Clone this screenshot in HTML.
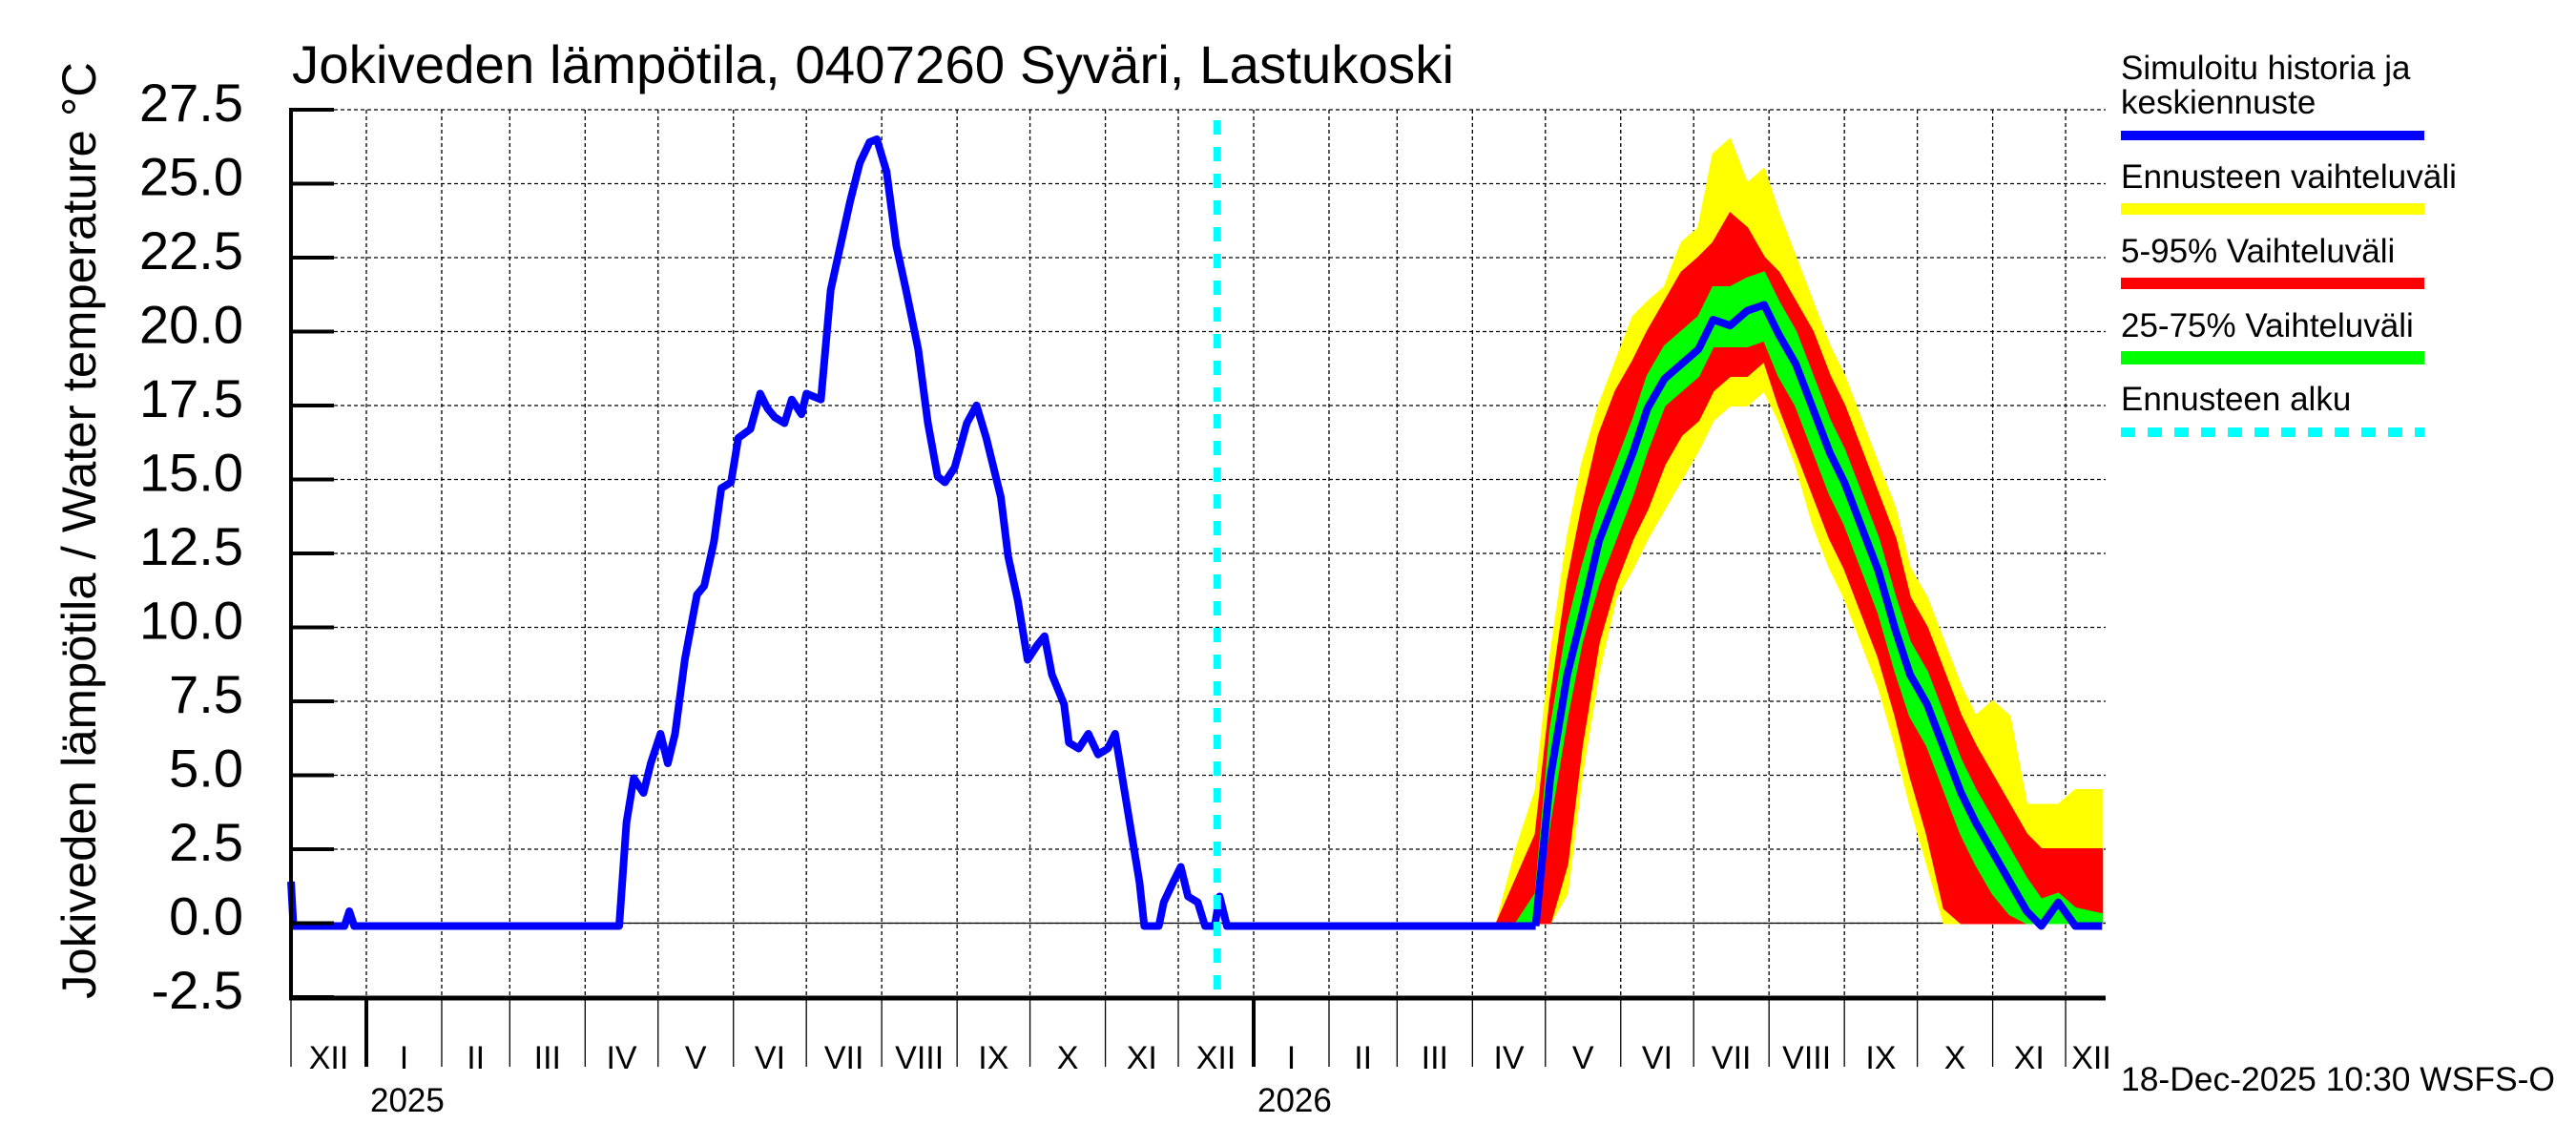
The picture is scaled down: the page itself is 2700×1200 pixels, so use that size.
<!DOCTYPE html>
<html><head><meta charset="utf-8"><style>
html,body{margin:0;padding:0;background:#fff;}
svg{display:block;font-family:"Liberation Sans",sans-serif;}
</style></head><body>
<svg id="chart" width="2700" height="1200" viewBox="0 0 2700 1200" xmlns="http://www.w3.org/2000/svg">
<rect x="0" y="0" width="2700" height="1200" fill="#fff"/>
<g id="grid"></g>
<g id="bands"></g>
<g id="lines"></g>
<g id="axes"></g>
<text x="306" y="87" font-size="56" textLength="1218" lengthAdjust="spacingAndGlyphs">Jokiveden lämpötila, 0407260 Syväri, Lastukoski</text>
<text transform="translate(100,556) rotate(-90)" text-anchor="middle" font-size="50" textLength="982" lengthAdjust="spacingAndGlyphs">Jokiveden lämpötila / Water temperature  °C</text>
<g>
<text x="2223" y="83" font-size="35">Simuloitu historia ja</text>
<text x="2223" y="119" font-size="35">keskiennuste</text>
<rect x="2223" y="137" width="318" height="10" fill="#0000ff"/>
<text x="2223" y="197" font-size="35" textLength="352" lengthAdjust="spacingAndGlyphs">Ennusteen vaihteluväli</text>
<rect x="2223" y="213" width="318" height="12" fill="#ffff00"/>
<text x="2223" y="275" font-size="35">5-95% Vaihteluväli</text>
<rect x="2223" y="291" width="318" height="12" fill="#ff0000"/>
<text x="2223" y="353" font-size="35">25-75% Vaihteluväli</text>
<rect x="2223" y="368" width="318" height="14" fill="#00ff00"/>
<text x="2223" y="430" font-size="35">Ennusteen alku</text>
<line x1="2223" y1="453" x2="2541" y2="453" stroke="#00ffff" stroke-width="10" stroke-dasharray="15,13"/>
</g>
<text x="2223" y="1143" font-size="35" textLength="455" lengthAdjust="spacingAndGlyphs">18-Dec-2025 10:30 WSFS-O</text>
</svg>
<script>
// Days since 2024-12-01
const histDays = [0,1,22,24,26,135,138,141,145,148,152,155,158,162,167,170,174,177,181,184,189,193,196,199,203,206,210,212,218,222,226,230,234,238,241,245,249,253,258,262,266,269,273,278,282,286,292,295,299,303,307,310,313,318,320,324,328,332,336,339,341,344,346,349,351,357,359,363,366,369,373,376,380,382,385,512];
const histVals = [1.5,0,0,0.5,0,0,3.5,5,4.5,5.5,6.5,5.5,6.5,9,11.2,11.5,13,14.8,15,16.5,16.8,18,17.5,17.2,17,17.8,17.3,18,17.8,21.5,23,24.5,25.8,26.5,26.6,25.5,23,21.5,19.5,17,15.2,15,15.5,17,17.6,16.5,14.5,12.5,11,9,9.5,9.8,8.5,7.5,6.2,6,6.5,5.8,6,6.5,5.5,4,3,1.5,0,0,0.8,1.5,2,1,0.8,0,0,1,0,0];
const fcDays = [496,504,512,518,525,531,538,545,552,558,565,572,579,585,592,599,606,612,619,626,633,639,646,653,660,666,673,680,687,693,700,707,714,720,727,734,745];
const fcMedian = [0,0,0,5,8.5,10.5,13,14.5,16,17.5,18.5,19,19.5,20.5,20.3,20.8,21,20,19,17.5,16,15,13.5,12,10,8.5,7.5,6,4.5,3.5,2.5,1.5,0.5,0,0.8,0,0];
const fcP25 = [0,0,0,3.5,7,9.5,11.5,13,14.5,16,17.5,18,18.5,19.5,19.5,19.5,19.7,18.5,17.5,16,14.5,13.5,12,10.5,8.5,7,6,4.5,3,2,1,0.3,0,0,0,0,0];
const fcP75 = [0,0,1,6.5,10,12,14,15.5,17,18.5,19.5,20,20.5,21.5,21.5,21.8,22,21,20,18.5,17,16,14.5,13,11,9.5,8.5,7,5.5,4.5,3.5,2.5,1.5,0.8,1,0.5,0.3];
const fcP5 = [0,0,0,0,2,6,9.5,11.5,13,14,15.5,16.5,17,18,18.5,18.5,19,17.5,16,14.5,13,12,10.5,9,7,5,3,0.5,0,0,0,0,0,0,0,0,0];
const fcP95 = [0,1.5,3,7.5,11.5,14,16.5,18,19,20,21,22,22.5,23,24,23.5,22.5,22,21,20,18.5,17.5,16,14.5,13,11,10,8.5,7,6,5,4,3,2.5,2.5,2.5,2.5];
const fcMin = [0,0,0,0,1,5,8.5,11,12,13,14,15,16,17,17.5,17.5,18,17,15.5,13.5,12,11,9.5,8,6,4,2,0,0,0,0,0,0,0,0,0,0];
const fcMax = [0,2.5,4.5,9,13,15.5,17.5,19,20.5,21,21.5,23,23.5,26,26.5,25,25.5,24,22.5,21,19.5,18.5,17,15.5,14,12,11,9.5,8,7,7.5,7,4,4,4,4.5,4.5];
const forecastStartDay = 381;
const yTicks = [27.5,25.0,22.5,20.0,17.5,15.0,12.5,10.0,7.5,5.0,2.5,0.0,-2.5];
const monthStartDays = [0,31,62,90,121,151,182,212,243,274,304,335,365,396,427,455,486,516,547,577,608,639,669,700,730];
const monthLabels = ["XII","I","II","III","IV","V","VI","VII","VIII","IX","X","XI","XII","I","II","III","IV","V","VI","VII","VIII","IX","X","XI","XII"];
const yearLabels = ["2025","2026"];
const yearStartDays = [31,396];

const X0=305, X1=2207, PXD=2.548, Y0=967.5, PXV=31;
const xS = d => X0 + d*PXD;
const yS = v => Y0 - v*PXV;
const NS="http://www.w3.org/2000/svg";
function mk(tag, attrs, parent){const e=document.createElementNS(NS,tag);for(const k in attrs)e.setAttribute(k,attrs[k]);parent.appendChild(e);return e;}
const grid=document.getElementById('grid'), bands=document.getElementById('bands'), lines=document.getElementById('lines'), axes=document.getElementById('axes');

yTicks.forEach(v=>{
  const g=mk('line',{x1:350,x2:X1,y1:yS(v),y2:yS(v),stroke:'#000','stroke-width':1.3,'stroke-dasharray':'4,3'},grid);
  
  
  const t=mk('line',{x1:X0,x2:350,y1:yS(v),y2:yS(v),stroke:'#000','stroke-width':4},axes);
  
  
  const l=mk('text',{x:255,y:yS(v)+12,'text-anchor':'end','font-size':56},axes);
  
  
  l.textContent=v.toFixed(1);
});
monthStartDays.forEach((d,i)=>{
  const x=xS(d);
  if(i>0){
    const g=mk('line',{x1:x,x2:x,y1:115,y2:1046,stroke:'#000','stroke-width':1.3,'stroke-dasharray':'4,3'},grid);
    
    
  }
  const isYear=yearStartDays.includes(d);
  const t=mk('line',{x1:x,x2:x,y1:1046,y2:1118,stroke:'#000','stroke-width':isYear?4:1.3},axes);
  
  
  const nd = i+1<monthStartDays.length ? monthStartDays[i+1] : 760;
  const cx = Math.min((xS(d)+Math.min(xS(nd),X1+12))/2, 2195);
  const l=mk('text',{x:cx,y:1120,'text-anchor':'middle','font-size':34},axes);
  
  
  l.textContent=monthLabels[i];
});
yearLabels.forEach((y,i)=>{
  const l=mk('text',{x:xS(yearStartDays[i])+4,y:1165,'font-size':35},axes);
  
  
  l.textContent=y;
});
function band(lo,hi,color,name){
  let pts=[];
  fcDays.forEach((d,i)=>pts.push(xS(d)+','+yS(hi[i])));
  for(let i=fcDays.length-1;i>=0;i--)pts.push(xS(fcDays[i])+','+yS(lo[i]));
  const p=mk('polygon',{points:pts.join(' '),fill:color,stroke:color,'stroke-width':2},bands);
  
  
}
band(fcMin,fcMax,'#ffff00','band-min-max');
band(fcP5,fcP95,'#ff0000','band-5-95');
band(fcP25,fcP75,'#00ff00','band-25-75');
const hp=mk('polyline',{points:histDays.map((d,i)=>xS(d)+','+(yS(histVals[i])+3)).join(' '),fill:'none',stroke:'#0000ff','stroke-width':8,'stroke-linejoin':'round'},lines);


const mp=mk('polyline',{points:fcDays.filter(d=>d>=512).map(d=>{const i=fcDays.indexOf(d);return xS(d)+','+(yS(fcMedian[i])+3);}).join(' '),fill:'none',stroke:'#0000ff','stroke-width':8,'stroke-linejoin':'round'},lines);


const fs=mk('line',{x1:xS(forecastStartDay),x2:xS(forecastStartDay),y1:126,y2:1046,stroke:'#00ffff','stroke-width':8,'stroke-dasharray':'15,13'},lines);


const zl=mk('line',{x1:X0,x2:X1,y1:Y0,y2:Y0,stroke:'#000','stroke-width':1.3},grid);


const ya=mk('line',{x1:X0,x2:X0,y1:113,y2:1048,stroke:'#000','stroke-width':4},axes);


const xa=mk('line',{x1:X0-2,x2:X1,y1:1046,y2:1046,stroke:'#000','stroke-width':5},axes);


</script>
</body></html>
